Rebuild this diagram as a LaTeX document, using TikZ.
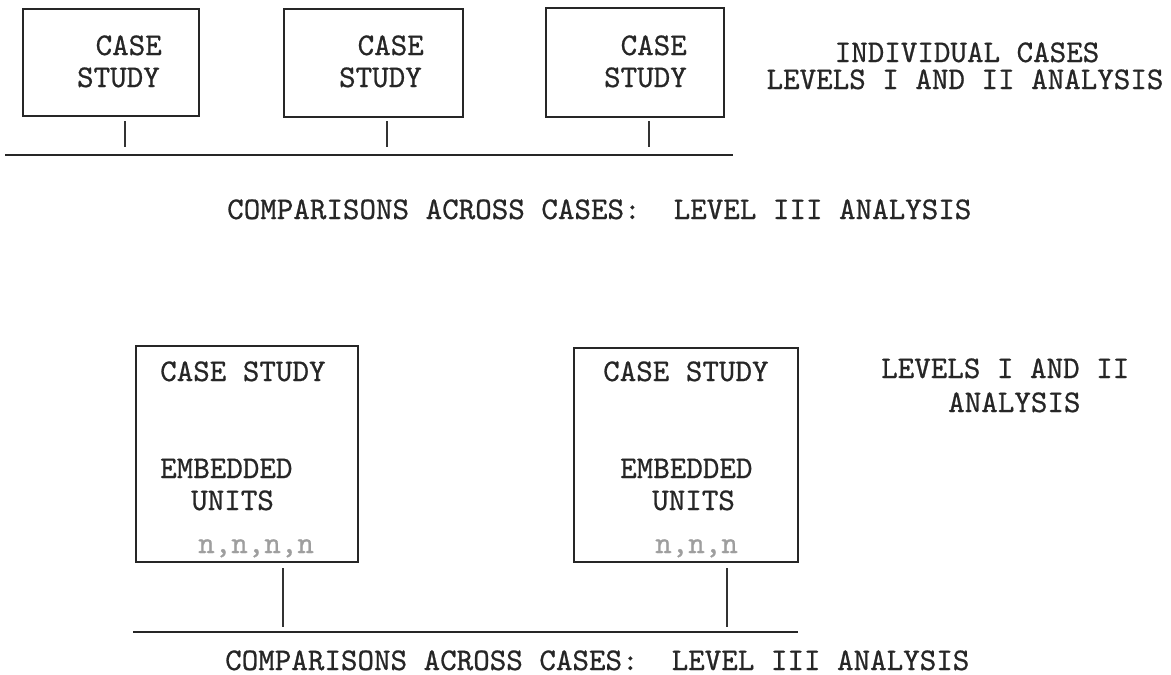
\documentclass[tikz,border=0pt]{standalone}
\usepackage{fontspec}
\newfontfamily\typer[FakeBold=0.7]{lmmono10-regular.otf}
\tikzset{
  casebox/.style={draw=black!85, line width=1.8pt, anchor=north west, inner sep=0pt},
  tw/.style={font=\fontsize{31.5}{32}\selectfont\typer, inner sep=0pt, text=black!85},
  faint/.style={tw, text=black!38},
  rule/.style={line width=1.8pt, draw=black!85},
  stub/.style={line width=1.3pt, draw=black!80}
}
\begin{document}
\begin{tikzpicture}[x=1pt,y=-1pt]
\useasboundingbox (0,0) rectangle (1171,675);
\fill[white] (0,0) rectangle (1171,675);

% ---- upper diagram: three single case studies ----
\node[casebox, minimum width=176pt, minimum height=107pt] (t1) at (22,8) {};
\node[casebox, minimum width=179pt, minimum height=108pt] (t2) at (283,8) {};
\node[casebox, minimum width=178pt, minimum height=109pt] (t3) at (545,7) {};

\node[tw, anchor=base east] (t1a) at (162,55) {CASE};
\node[tw, anchor=base east] (t1b) at (160,87) {STUDY};
\node[tw, anchor=base east] (t2a) at (424,55) {CASE};
\node[tw, anchor=base east] (t2b) at (422,87) {STUDY};
\node[tw, anchor=base east] (t3a) at (687,55) {CASE};
\node[tw, anchor=base east] (t3b) at (687,87) {STUDY};

\node[tw, anchor=base] (ind1) at (967,62) {INDIVIDUAL CASES};
\node[tw, anchor=base] (ind2) at (965,89) {LEVELS I AND II ANALYSIS};

% connectors down to the comparison rule
\coordinate (topL) at (5,155);
\coordinate (topR) at (733,155);
\draw[rule] (topL) -- (topR);
\foreach \b/\x in {t1/125, t2/387, t3/649}{
  \coordinate (\b s) at (\x,121);
  \coordinate (\b e) at (\x,147);
  \draw[stub] (\b s) -- (\b e);
}

\node[tw, anchor=base west] (cmp1) at (227,219) {COMPARISONS ACROSS CASES:\ \ LEVEL III ANALYSIS};

% ---- lower diagram: case studies with embedded units ----
\node[casebox, minimum width=222pt, minimum height=216pt] (u1) at (135,345) {};
\node[casebox, minimum width=224pt, minimum height=214pt] (u2) at (573,347) {};

\node[tw, anchor=base west] (u1a) at (160,381) {CASE STUDY};
\node[tw, anchor=base west] (u1b) at (160,478) {EMBEDDED};
\node[tw, anchor=base west] (u1c) at (191,510) {UNITS};
\node[faint, anchor=base west] (u1d) at (198,553) {n,n,n,n};

\node[tw, anchor=base west] (u2a) at (603,381) {CASE STUDY};
\node[tw, anchor=base west] (u2b) at (620,478) {EMBEDDED};
\node[tw, anchor=base west] (u2c) at (652,510) {UNITS};
\node[faint, anchor=base west] (u2d) at (655,553) {n,n,n};

\node[tw, anchor=base west] (lv1) at (881,378) {LEVELS I AND II};
\node[tw, anchor=base west] (lv2) at (948,412) {ANALYSIS};

\coordinate (botL) at (133,632);
\coordinate (botR) at (798,632);
\draw[rule] (botL) -- (botR);
\foreach \b/\x in {u1/283, u2/727}{
  \coordinate (\b s) at (\x,568);
  \coordinate (\b e) at (\x,627);
  \draw[stub] (\b s) -- (\b e);
}

\node[tw, anchor=base west] (cmp2) at (225,670) {COMPARISONS ACROSS CASES:\ \ LEVEL III ANALYSIS};
\end{tikzpicture}
\end{document}
